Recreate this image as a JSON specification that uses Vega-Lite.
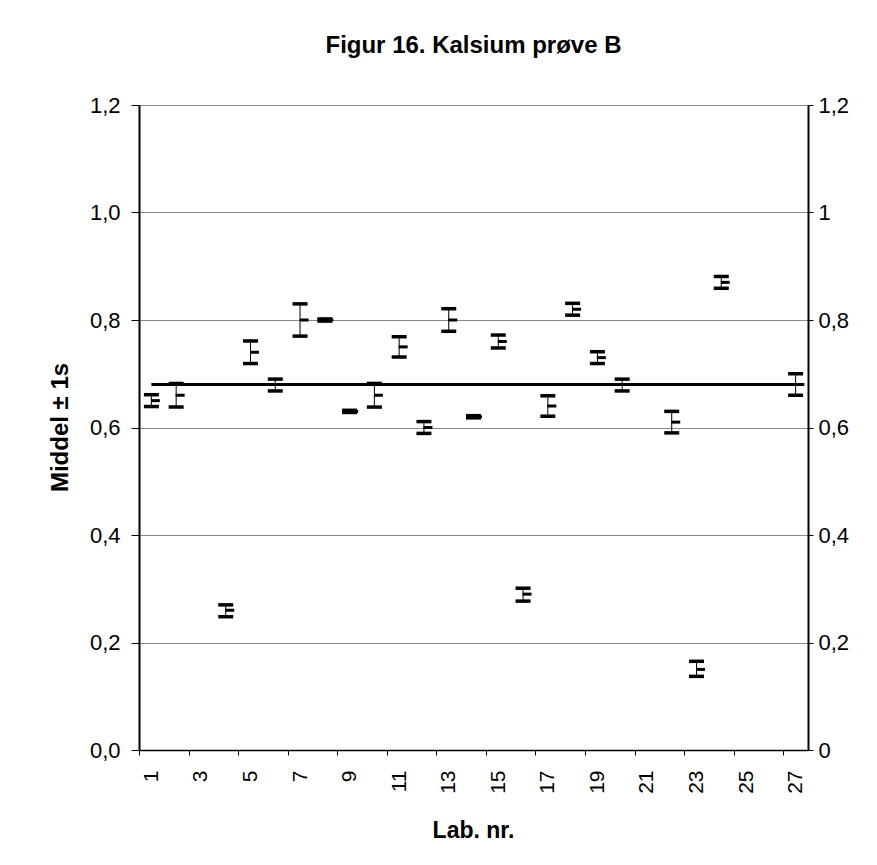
{
  "$schema": "https://vega.github.io/schema/vega-lite/v6.json",
  "autosize": {"type": "none"},
  "padding": {"left": 139, "top": 105, "right": 69, "bottom": 115},
  "width": 669,
  "height": 645,
  "background": "white",
  "config": {
    "font": "Liberation Sans",
    "view": {"stroke": null},
    "axis": {"labelColor": "black", "titleColor": "black", "domainColor": "black", "tickColor": "black", "labelFont": "Liberation Sans", "titleFont": "Liberation Sans"}
  },
  "title": {"text": "Figur 16. Kalsium prøve B", "fontSize": 24, "fontWeight": "bold", "font": "Liberation Sans", "color": "black", "anchor": "middle", "frame": "group", "baseline": "alphabetic", "offset": 17},
  "datasets": {
    "labs": [
      {"lab": 1, "mean": 0.65, "lo": 0.639, "hi": 0.661},
      {"lab": 2, "mean": 0.66, "lo": 0.638, "hi": 0.682},
      {"lab": 4, "mean": 0.26, "lo": 0.248, "hi": 0.27},
      {"lab": 5, "mean": 0.74, "lo": 0.719, "hi": 0.761},
      {"lab": 6, "mean": 0.68, "lo": 0.668, "hi": 0.69},
      {"lab": 7, "mean": 0.8, "lo": 0.77, "hi": 0.83},
      {"lab": 8, "mean": 0.8, "lo": 0.798, "hi": 0.802},
      {"lab": 9, "mean": 0.63, "lo": 0.628, "hi": 0.632},
      {"lab": 10, "mean": 0.66, "lo": 0.638, "hi": 0.682},
      {"lab": 11, "mean": 0.75, "lo": 0.731, "hi": 0.769},
      {"lab": 12, "mean": 0.6, "lo": 0.589, "hi": 0.611},
      {"lab": 13, "mean": 0.8, "lo": 0.779, "hi": 0.821},
      {"lab": 14, "mean": 0.62, "lo": 0.618, "hi": 0.622},
      {"lab": 15, "mean": 0.76, "lo": 0.748, "hi": 0.772},
      {"lab": 16, "mean": 0.29, "lo": 0.277, "hi": 0.301},
      {"lab": 17, "mean": 0.64, "lo": 0.621, "hi": 0.659},
      {"lab": 18, "mean": 0.82, "lo": 0.809, "hi": 0.831},
      {"lab": 19, "mean": 0.73, "lo": 0.719, "hi": 0.741},
      {"lab": 20, "mean": 0.68, "lo": 0.668, "hi": 0.69},
      {"lab": 22, "mean": 0.61, "lo": 0.59, "hi": 0.63},
      {"lab": 23, "mean": 0.15, "lo": 0.137, "hi": 0.165},
      {"lab": 24, "mean": 0.87, "lo": 0.859, "hi": 0.881},
      {"lab": 27, "mean": 0.68, "lo": 0.66, "hi": 0.7}
    ],
    "meanline": [{"lab": 1, "lab2": 27.35, "mean": 0.68}]
  },
  "layer": [
    {
      "data": {"name": "labs"},
      "layer": [
        {
          "mark": {"type": "rule", "color": "black", "strokeWidth": 1},
          "encoding": {
            "x": {"field": "lab", "type": "quantitative", "title": "Lab. nr.", "scale": {"domain": [0.5, 27.5], "nice": false, "zero": false},
              "axis": {"values": [0.5,1.5,2.5,3.5,4.5,5.5,6.5,7.5,8.5,9.5,10.5,11.5,12.5,13.5,14.5,15.5,16.5,17.5,18.5,19.5,20.5,21.5,22.5,23.5,24.5,25.5,26.5,27.5],
                "labelExpr": "((datum.value + 0.5) % 2 == 1) ? toString(datum.value + 0.5) : ''",
                "labelOffset": 12.39, "labelAngle": -90, "labelAlign": "right", "labelBaseline": "middle", "labelFontSize": 21, "labelPadding": 15,
                "labelFlush": false, "labelOverlap": false, "labelBound": false,
                "tickSize": 5, "tickWidth": 1, "domainWidth": 1.5, "grid": false,
                "titleFontSize": 23, "titleFontWeight": "bold", "titleX": 334, "titleY": 80, "titleBaseline": "middle", "titleAlign": "center"}},
            "y": {"field": "lo", "type": "quantitative", "title": "Middel ± 1s", "scale": {"domain": [0, 1.2], "nice": false},
              "axis": {"values": [0, 0.2, 0.4, 0.6, 0.8, 1.0, 1.2], "labelExpr": "replace(format(datum.value, '.1f'), '.', ',')",
                "labelFontSize": 22, "labelPadding": 11, "tickSize": 8, "domainWidth": 2,
                "grid": true, "gridColor": "#8a8a8a", "gridWidth": 1,
                "titleFontSize": 24, "titleFontWeight": "bold", "titleX": -79, "titleY": 322, "titleAngle": -90, "titleAlign": "center", "titleBaseline": "middle"}},
            "y2": {"field": "hi"}
          }
        },
        {
          "mark": {"type": "tick", "orient": "horizontal", "color": "black", "size": 15, "thickness": 3.5, "opacity": 1},
          "encoding": {
            "x": {"field": "lab", "type": "quantitative", "title": "Lab. nr."},
            "y": {"field": "lo", "type": "quantitative", "title": "Middel ± 1s"}
          }
        },
        {
          "mark": {"type": "tick", "orient": "horizontal", "color": "black", "size": 15, "thickness": 3.5, "opacity": 1},
          "encoding": {
            "x": {"field": "lab", "type": "quantitative", "title": "Lab. nr."},
            "y": {"field": "hi", "type": "quantitative", "title": "Middel ± 1s"}
          }
        },
        {
          "mark": {"type": "tick", "orient": "horizontal", "color": "black", "size": 9, "thickness": 3, "opacity": 1, "xOffset": 4},
          "encoding": {
            "x": {"field": "lab", "type": "quantitative", "title": "Lab. nr."},
            "y": {"field": "mean", "type": "quantitative", "title": "Middel ± 1s"}
          }
        }
      ]
    },
    {
      "data": {"name": "meanline"},
      "mark": {"type": "rule", "color": "black", "strokeWidth": 3},
      "encoding": {
        "x": {"field": "lab", "type": "quantitative", "title": "Lab. nr."},
        "x2": {"field": "lab2"},
        "y": {"field": "mean", "type": "quantitative", "title": "Middel ± 1s", "scale": {"domain": [0, 1.2], "nice": false},
          "axis": {"orient": "right", "values": [0, 0.2, 0.4, 0.6, 0.8, 1.0, 1.2], "labelExpr": "replace(format(datum.value, '~g'), '.', ',')",
            "labelFontSize": 22, "labelPadding": 5, "tickSize": 5, "domainWidth": 2, "grid": false, "title": null}}
      }
    }
  ],
  "resolve": {"axis": {"y": "independent"}}
}
